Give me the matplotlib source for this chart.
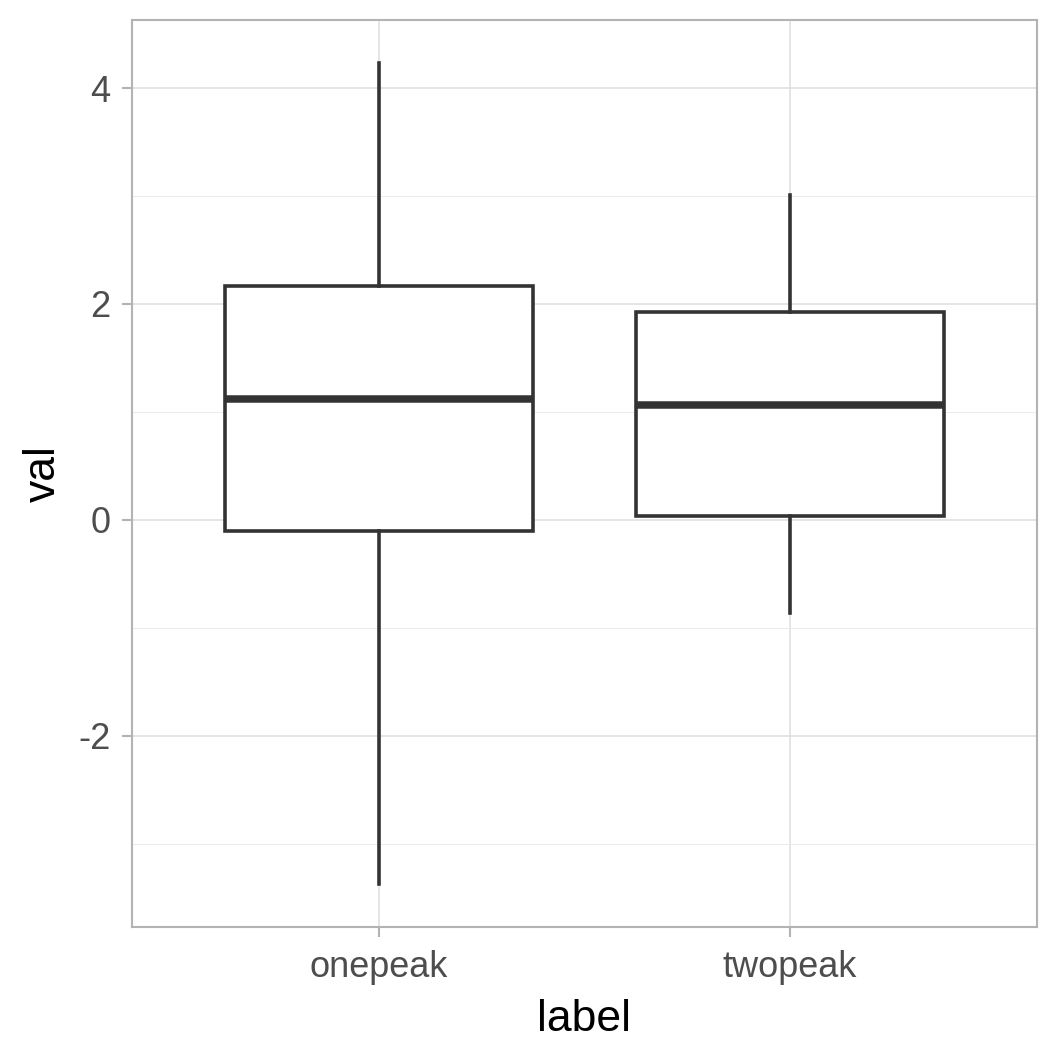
import matplotlib
matplotlib.use("Agg")
import matplotlib.pyplot as plt

plt.rcParams['font.family'] = ['Liberation Sans', 'DejaVu Sans']

# values
labels = ['onepeak', 'twopeak']
whislo = [-3.37, -0.86]
q1 = [-0.10, 0.04]
med = [1.12, 1.06]
q3 = [2.17, 1.93]
whishi = [4.23, 3.01]

stats = []
for i, lab in enumerate(labels):
    stats.append({'label': lab, 'whislo': whislo[i], 'q1': q1[i], 'med': med[i],
                  'q3': q3[i], 'whishi': whishi[i], 'fliers': []})

fig = plt.figure(figsize=(10.62, 10.62), dpi=100)
ax = fig.add_axes([132 / 1062, 1 - 927 / 1062, (1037 - 132) / 1062, (927 - 20) / 1062])

line_col = '#333333'
ax.bxp(stats, positions=[1, 2], widths=0.75, showcaps=False, showfliers=False,
       patch_artist=True,
       boxprops=dict(facecolor='white', edgecolor=line_col, linewidth=2.6),
       whiskerprops=dict(color=line_col, linewidth=2.6),
       medianprops=dict(color=line_col, linewidth=5.4, solid_capstyle='butt'),
       zorder=3)

ax.set_xlim(0.4, 2.6)
ax.set_ylim(-3.77, 4.63)
ax.set_yticks([-2, 0, 2, 4])
ax.set_yticklabels(['-2', '0', '2', '4'])
ax.set_yticks([-3, -1, 1, 3], minor=True)
ax.set_xticks([1, 2])
ax.set_xticklabels(labels)

ax.grid(True, which='major', color='#DEDEDE', linewidth=1.1, zorder=0)
ax.grid(True, which='minor', axis='y', color='#EBEBEB', linewidth=0.7, zorder=0)
ax.set_axisbelow(True)

for s in ax.spines.values():
    s.set_color('#B3B3B3')
    s.set_linewidth(1.5)

ax.tick_params(which='major', length=7.5, width=1.5, color='#B3B3B3',
               labelsize=26, labelcolor='#4D4D4D')
ax.tick_params(axis='x', pad=9)
ax.tick_params(axis='y', pad=8)
ax.tick_params(which='minor', length=0)

ax.set_xlabel('label', fontsize=32, color='black', labelpad=10)
ax.set_ylabel('val', fontsize=32, color='black', labelpad=10)

fig.savefig('out.png', dpi=100, facecolor='white')
